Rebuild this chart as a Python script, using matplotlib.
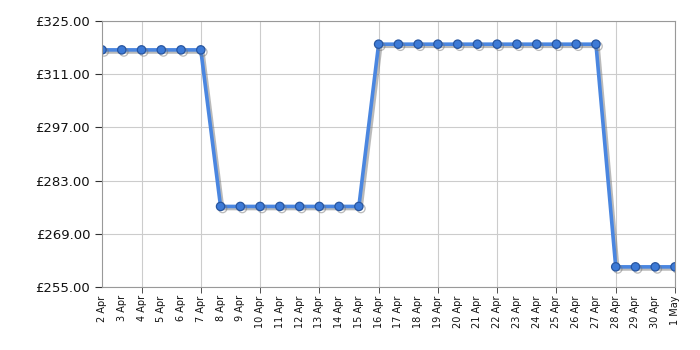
import matplotlib
matplotlib.use("Agg")
import matplotlib.pyplot as plt
import matplotlib.patheffects as pe
import pandas as pd

dates = pd.date_range("2024-04-02", "2024-05-01", freq="D")
prices = ([317.4] * 6 + [276.2] * 8 + [318.9] * 12 + [260.3] * 4)
y_ticks = [255, 269, 283, 297, 311, 325]


def main():
    fig = plt.figure(figsize=(7, 3.5), dpi=100)
    ax = fig.add_axes([102 / 700, 63 / 350, 573 / 700, 266 / 350])

    ax.plot(dates, prices, color="#4a86e0", linewidth=2.6, marker="o",
            markersize=6, markerfacecolor="#3d7ad6", markeredgecolor="#2856a0",
            markeredgewidth=0.9,
            path_effects=[pe.SimpleLineShadow(offset=(1.5, -1.5), shadow_color="#777777", alpha=0.5),
                          pe.Normal()])

    ax.set_xlim(dates[0], dates[-1])
    ax.set_ylim(255, 325)
    ax.set_yticks(y_ticks)
    ax.set_yticklabels([f"£{v:.2f}" for v in y_ticks], fontsize=9.5, color="#111111")

    # labels every day, grid/ticks every 3 days
    ax.xaxis.remove_overlapping_locs = False
    ax.set_xticks(dates)
    ax.set_xticklabels([f"{d.day} {d.strftime('%b')}" for d in dates],
                       rotation=90, fontsize=7, color="#111111")
    ax.tick_params(axis="x", which="major", length=0, pad=6)
    grid_days = dates[2::3]
    ax.set_xticks(grid_days, minor=True)
    ax.tick_params(axis="x", which="minor", length=4, color="#333333")
    ax.tick_params(axis="y", length=5, color="#333333")

    ax.grid(True, which="minor", axis="x", color="#cccccc", linewidth=0.8)
    ax.grid(True, which="major", axis="y", color="#cccccc", linewidth=0.8)
    ax.set_axisbelow(True)
    for s in ax.spines.values():
        s.set_color("#999999")

    fig.savefig("out.png", dpi=100)


if __name__ == '__main__':
    main()
